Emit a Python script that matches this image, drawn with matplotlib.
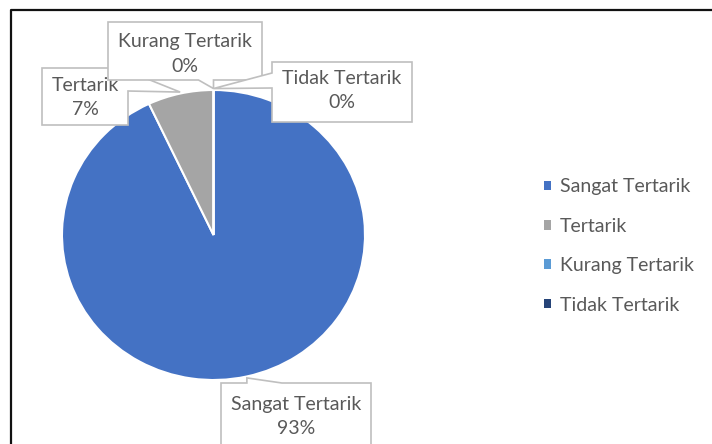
import matplotlib.pyplot as plt
import numpy as np
from matplotlib.patches import Polygon

# data
labels = ['Sangat Tertarik', 'Tertarik', 'Kurang Tertarik', 'Tidak Tertarik']
values = [93, 7, 0, 0]
colors = ['#4472C4', '#A5A5A5', '#5B9BD5', '#264478']

plt.rcParams['font.family'] = ['Lato', 'DejaVu Sans']
txt_c = '#595959'
box_c = '#BFBFBF'
W, H = 712, 444
fs = 14

fig = plt.figure(figsize=(W / 100, H / 100), dpi=100)

# pie (centre and radii in pixels, slightly squashed like the screenshot)
cx, cy, rx, ry = 213.5, 235, 151.5, 145
p = 1.05
ax = fig.add_axes([(cx - rx * p) / W, (H - cy - ry * p) / H, 2 * rx * p / W, 2 * ry * p / H])
wedges, _ = ax.pie(values, colors=colors, startangle=90, counterclock=False,
                   wedgeprops=dict(edgecolor='white', linewidth=1.5))
ax.set_aspect('auto')
ax.set_xlim(-p, p)
ax.set_ylim(-p, p)

# overlay in pixel coords for callouts, legend and border
ov = fig.add_axes([0, 0, 1, 1], zorder=5)
ov.set_xlim(0, W)
ov.set_ylim(H, 0)
ov.axis('off')
ov.patch.set_alpha(0)

# callout tips = middle of each wedge's arc
fr = np.array(values) / np.sum(values)
ends = np.cumsum(fr)
starts = ends - fr
mid = np.deg2rad(90 - 360 * (starts + ends) / 2)
pts = ax.transData.transform(np.column_stack([np.cos(mid), np.sin(mid)]) * 1.01)
tips = ov.transData.inverted().transform(pts)


def callout(shape, xy, text, z):
    ov.add_patch(Polygon(shape, closed=True, fc='white', ec=box_c, lw=1.2, zorder=z))
    ov.text(xy[0], xy[1], text, ha='center', va='center', fontsize=fs,
            color=txt_c, linespacing=1.5, zorder=z + 1)


tx, ty = tips[1]
callout([(42, 68), (120, 68), (tx, ty), (128, 91), (128, 125), (42, 125)],
        (85, 97), f'{labels[1]}\n{values[1]}%', 2)
tx, ty = tips[2]
callout([(108, 22), (262, 22), (262, 80), (tx, 80), (tx, ty), (tx - 15, 80), (108, 80)],
        (185, 54), f'{labels[2]}\n{values[2]}%', 4)
tx, ty = tips[3]
callout([(272, 62), (412, 62), (412, 122), (272, 122), (272, 88), (tx, ty), (272, 73)],
        (342, 91), f'{labels[3]}\n{values[3]}%', 6)
tx, ty = tips[0]
callout([(221, 383), (tx, 383), (tx, ty), (tx + 35, 383), (371, 383), (371, 452), (221, 452)],
        (296, 416), f'{labels[0]}\n{values[0]}%', 8)

leg = ov.legend(wedges, labels, loc='center left', bbox_to_anchor=(544, 246),
                bbox_transform=ov.transData, frameon=False, fontsize=fs,
                labelcolor=txt_c, handlelength=0.38, handleheight=0.38,
                handletextpad=0.42, labelspacing=1.15, borderpad=0, borderaxespad=0)
for h in leg.legend_handles:
    h.set_edgecolor('none')

# outer frame (only top and left visible)
ov.plot([10.5, 10.5, W + 5], [H + 5, 10.5, 10.5], color='#111111', lw=1.6,
        clip_on=False, zorder=20)

fig.savefig('out.png', dpi=100)
